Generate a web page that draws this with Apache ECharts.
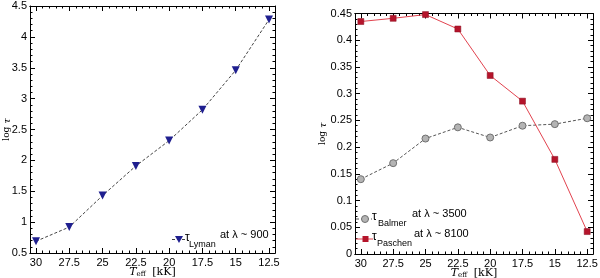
<!DOCTYPE html>
<html>
<head>
<meta charset="utf-8">
<script src="https://cdn.jsdelivr.net/npm/echarts@6/dist/echarts.min.js"></script>
<style>html,body{margin:0;padding:0;background:#fff}#c{width:600px;height:278px}</style>
</head>
<body>
<div id="c"></div>
<script>
const temps = [30, 27.5, 25, 22.5, 20, 17.5, 15, 12.5];
const lyman = [0.69, 0.92, 1.43, 1.91, 2.32, 2.82, 3.46, 4.28];
const balmer = [0.140, 0.170, 0.216, 0.237, 0.218, 0.240, 0.243, 0.254];
const paschen = [0.435, 0.441, 0.448, 0.421, 0.334, 0.286, 0.177, 0.042];
const xTickLabels = [30, 27.5, 25, 22.5, 20, 17.5, 15, 12.5];
const xMinorTicks = [];
for (let v = 12.5; v <= 30.001; v += 0.5) xMinorTicks.push(+v.toFixed(1));

const chart = echarts.init(document.getElementById('c'));
const sans = 'Liberation Sans';
const serif = 'DejaVu Serif';
const X_MIN = 12.05, X_MAX = 30.45;

const C_LYMAN = '#1f1f8f', C_BAL = '#b4b4b4', C_BAL_B = '#707070', C_PAS = '#b5142b', C_PAS_L = '#e2434f';

function xAxes(gi) {
  const base = {gridIndex: gi, type: 'value', min: X_MIN, max: X_MAX, inverse: true,
    splitLine: {show: false},
    axisLine: {show: true, lineStyle: {color: '#000', width: 1}}};
  return [
    Object.assign({}, base, {position: 'bottom',
      axisTick: {show: true, inside: true, length: 5, customValues: xTickLabels, lineStyle: {color: '#000'}},
      axisLabel: {show: true, customValues: xTickLabels, color: '#000', fontFamily: sans, fontSize: 11, margin: 4},
      name: '{t|T}{s|eff}  {n|[kK]}', nameLocation: 'middle', nameGap: 13, nameMoveOverlap: false,
      nameTextStyle: {rich: {
        t: {fontFamily: serif, fontStyle: 'italic', fontSize: 11, color: '#000'},
        s: {fontFamily: serif, fontSize: 7, color: '#000', padding: [4, 0, 0, 0]},
        n: {fontFamily: serif, fontSize: 11, color: '#000'}}}}),
    Object.assign({}, base, {position: 'bottom',
      axisTick: {show: true, inside: true, length: 2.5, customValues: xMinorTicks, lineStyle: {color: '#000'}},
      axisLabel: {show: false}}),
    Object.assign({}, base, {position: 'top',
      axisTick: {show: true, inside: true, length: 5, customValues: xTickLabels, lineStyle: {color: '#000'}},
      axisLabel: {show: false}}),
    Object.assign({}, base, {position: 'top',
      axisTick: {show: true, inside: true, length: 2.5, customValues: xMinorTicks, lineStyle: {color: '#000'}},
      axisLabel: {show: false}})
  ];
}

function yAxes(gi, min, max, interval, nameGap) {
  const base = {gridIndex: gi, type: 'value', min: min, max: max, interval: interval,
    splitLine: {show: false},
    axisLine: {show: true, lineStyle: {color: '#000', width: 1}},
    axisTick: {show: true, inside: true, length: 5, lineStyle: {color: '#000'}},
    minorTick: {show: true, splitNumber: 5, length: 2.5, lineStyle: {color: '#000'}}};
  return [
    Object.assign({}, base, {position: 'left',
      axisLabel: {show: true, color: '#000', fontFamily: sans, fontSize: 11, margin: 3},
      name: '{n|log }{t|τ}', nameLocation: 'middle', nameGap: nameGap, nameRotate: 90, nameMoveOverlap: false,
      nameTextStyle: {rich: {
        n: {fontFamily: serif, fontSize: 9, color: '#000'},
        t: {fontFamily: serif, fontStyle: 'italic', fontSize: 10, color: '#000'}}}}),
    Object.assign({}, base, {position: 'right', axisLabel: {show: false}})
  ];
}

// legend drawn as decoration
function txt(x, y, text, size) {
  return {type: 'text', x: x, y: y, z: 100,
    style: {text: text, fontFamily: sans, fontSize: size, fill: '#000', align: 'left', verticalAlign: 'middle'}};
}
function legendEntry(lx1, lx2, y, dash, lineColor, marker, tx, sub, subX, rest, restX) {
  return [
    {type: 'line', z: 100, shape: {x1: lx1, y1: y, x2: lx2, y2: y},
      style: dash ? {stroke: lineColor, lineWidth: 1, lineDash: [3, 2]} : {stroke: lineColor, lineWidth: 1}},
    marker,
    txt(tx, y - 2, 'τ', 12),
    txt(subX, y + 5, sub, 9),
    txt(restX, y - 5, rest, 11)
  ];
}

const graphic = [].concat(
  legendEntry(172, 186, 239.5, true, '#444',
    {type: 'polygon', z: 101, shape: {points: [[175, 236], [183, 236], [179, 243]]}, style: {fill: C_LYMAN}},
    185, 'Lyman', 189, 'at λ ~ 900', 220),
  legendEntry(356, 372, 219, true, '#555',
    {type: 'circle', z: 101, shape: {cx: 365, cy: 219, r: 3.5}, style: {fill: C_BAL, stroke: C_BAL_B, lineWidth: 1}},
    372, 'Balmer', 378, 'at λ ~ 3500', 412),
  legendEntry(356, 373, 239, false, C_PAS_L,
    {type: 'rect', z: 101, shape: {x: 362.5, y: 236, width: 6, height: 6}, style: {fill: C_PAS}},
    372, 'Paschen', 377, 'at λ ~ 8100', 414)
);

const option = {
  animation: false,
  backgroundColor: '#fff',
  grid: [
    {left: 30, top: 6, width: 245, height: 247, containLabel: false, outerBoundsMode: 'none'},
    {left: 355, top: 13.5, width: 238, height: 240.5, containLabel: false, outerBoundsMode: 'none'}
  ],
  xAxis: xAxes(0).concat(xAxes(1)),
  yAxis: yAxes(0, 0.5, 4.5, 0.5, 18).concat(yAxes(1, 0, 0.45, 0.05, 27)),
  graphic: {elements: graphic},
  series: [
    {name: 'Lyman', type: 'line', xAxisIndex: 0, yAxisIndex: 0,
      data: temps.map((t, i) => [t, lyman[i]]),
      symbol: 'triangle', symbolRotate: 180, symbolSize: 8,
      itemStyle: {color: C_LYMAN, borderWidth: 0},
      lineStyle: {color: '#444', width: 1, type: [3, 2]}},
    {name: 'Balmer', type: 'line', xAxisIndex: 4, yAxisIndex: 2,
      data: temps.map((t, i) => [t, balmer[i]]),
      symbol: 'circle', symbolSize: 7,
      itemStyle: {color: C_BAL, borderColor: C_BAL_B, borderWidth: 1},
      lineStyle: {color: '#555', width: 1, type: [3, 2]}},
    {name: 'Paschen', type: 'line', xAxisIndex: 4, yAxisIndex: 2,
      data: temps.map((t, i) => [t, paschen[i]]),
      symbol: 'rect', symbolSize: 6,
      itemStyle: {color: C_PAS, borderColor: '#8a0f20', borderWidth: 0.5},
      lineStyle: {color: C_PAS_L, width: 1, type: 'solid'}}
  ]
};
chart.setOption(option);
</script>
</body>
</html>
